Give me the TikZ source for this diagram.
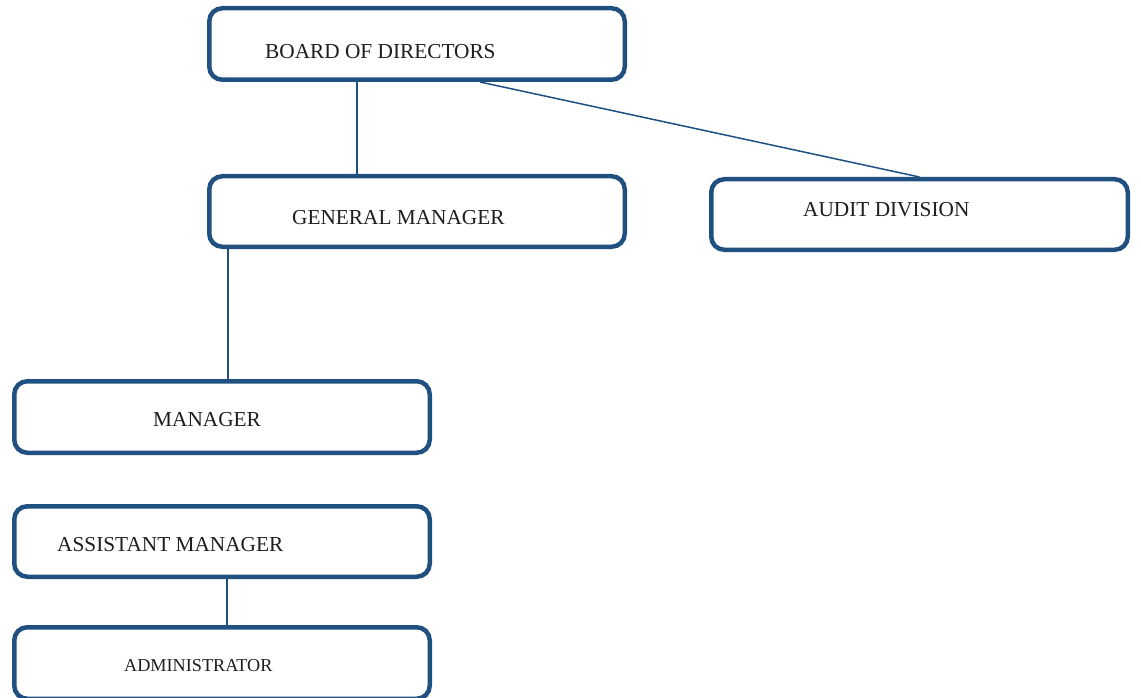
\documentclass[tikz,border=0pt]{standalone}
\usepackage{fontspec}
\setmainfont{Liberation Serif}
\definecolor{boxblue}{RGB}{31,80,128}
\definecolor{txt}{RGB}{30,30,30}
\begin{document}
\begin{tikzpicture}[x=1pt,y=-1pt,
  orgbox/.style={draw=boxblue,line width=4.5pt,rounded corners=13pt,minimum width=415.5pt,minimum height=71.5pt,inner sep=0pt,fill=white},
  lbl/.style={anchor=west,inner sep=0pt,text=txt,font=\fontsize{21.3}{24}\selectfont},
  conn/.style={draw=boxblue,line width=1.5pt}]
\useasboundingbox (0,0) rectangle (1141,698);
\node[orgbox] (board) at (417,44) {};
\node[orgbox,minimum height=70.5pt] (gm) at (417,211.5) {};
\node[orgbox,minimum width=416.5pt,minimum height=70.5pt] (audit) at (919.5,214.5) {};
\node[orgbox] (mgr) at (222,417) {};
\node[orgbox,minimum height=70.5pt] (asst) at (222,541.5) {};
\node[orgbox] (admin) at (222,663) {};
\node[lbl] (tboard) at (265,52) {BOARD OF DIRECTORS};
\node[lbl] (tgm) at (292,218) {GENERAL MANAGER};
\node[lbl] (taudit) at (803,210) {AUDIT DIVISION};
\node[lbl] (tmgr) at (153,420) {MANAGER};
\node[lbl] (tasst) at (57,545) {ASSISTANT MANAGER};
\node[lbl,font=\fontsize{18.2}{21}\selectfont] (tadmin) at (124,666) {ADMINISTRATOR};
\draw[conn] ([xshift=-60pt]board.south) -- ([xshift=-60pt]gm.north);
\draw[conn] ([xshift=63pt]board.south) -- (audit.north);
\draw[conn] ([xshift=-189pt]gm.south) -- ([xshift=6pt]mgr.north);
\draw[conn] ([xshift=5pt]asst.south) -- ([xshift=5pt]admin.north);
\end{tikzpicture}
\end{document}
